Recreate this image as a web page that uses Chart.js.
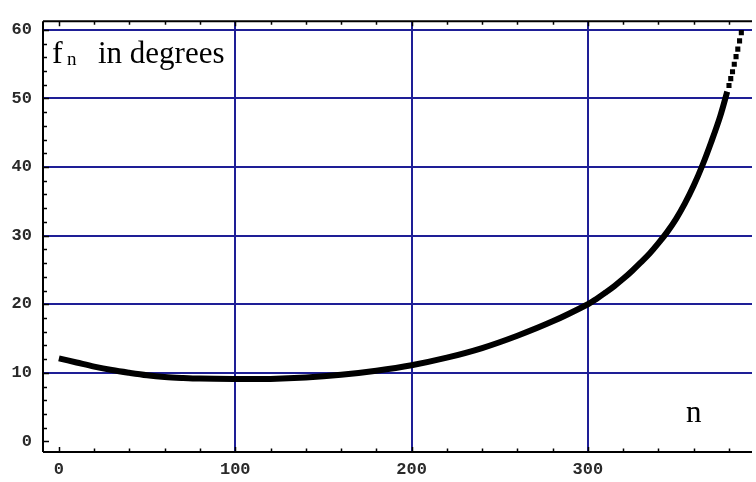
<!DOCTYPE html>
<html>
<head>
<meta charset="utf-8">
<script src="https://cdn.jsdelivr.net/npm/chart.js@4"></script>
<style>
html,body{margin:0;padding:0;background:#fff;}
#wrap{width:756px;height:482px;}
</style>
</head>
<body>
<div id="wrap"><canvas id="c" width="756" height="482"></canvas></div>
<script>
// ---- data ----
const nValues = [0, 10, 20, 30, 40, 50, 60, 70, 80, 100, 120, 140, 160, 180, 200, 220, 240, 260, 280, 300, 305, 310, 315, 320, 325, 330, 335, 340, 345, 350, 355, 360, 365, 370, 375, 379];
const fValues = [12.1, 11.5, 10.9, 10.4, 10.0, 9.65, 9.4, 9.25, 9.15, 9.1, 9.1, 9.3, 9.7, 10.3, 11.1, 12.2, 13.6, 15.4, 17.5, 20.0, 20.8, 21.7, 22.65, 23.7, 24.85, 26.1, 27.4, 28.9, 30.55, 32.45, 34.7, 37.3, 40.3, 43.7, 47.4, 51.0];
const tailN = [380, 381, 382, 383, 384, 385, 386, 387];
const tailF = [51.9, 52.9, 53.9, 55.0, 56.1, 57.2, 58.4, 59.6];
const xTickValues = [0, 100, 200, 300];
const yTickValues = [0, 10, 20, 30, 40, 50, 60];
const xMinorStep = 20;
const yMinorStep = 2;
const yLabelText = "in degrees";
const xLabelText = "n";

const GRID_BLUE = '#1e1e96';

const framePlugin = {
  id: 'frame',
  afterDatasetsDraw(chart) {
    const ctx = chart.ctx, a = chart.chartArea;
    const xs = chart.scales.x, ys = chart.scales.y;
    ctx.save();
    ctx.strokeStyle = '#000';
    ctx.lineWidth = 2;
    ctx.beginPath();
    ctx.moveTo(a.left, a.top); ctx.lineTo(a.right, a.top);
    ctx.moveTo(a.left, a.top); ctx.lineTo(a.left, a.bottom);
    ctx.moveTo(a.left, a.bottom); ctx.lineTo(a.right, a.bottom);
    ctx.stroke();
    ctx.lineWidth = 1.5;
    ctx.beginPath();
    for (let v = 0; v <= xs.max; v += xMinorStep) {
      const px = Math.round(xs.getPixelForValue(v)) + 0.5;
      const major = v % 100 === 0;
      const len = major ? 5 : 3.5;
      ctx.moveTo(px, a.bottom); ctx.lineTo(px, a.bottom - len);
      ctx.moveTo(px, a.top); ctx.lineTo(px, a.top + len);
    }
    for (let v = 0; v <= ys.max; v += yMinorStep) {
      const py = Math.round(ys.getPixelForValue(v)) + 0.5;
      const major = v % 10 === 0;
      const len = major ? 6 : 4;
      ctx.moveTo(a.left, py); ctx.lineTo(a.left + len, py);
    }
    ctx.stroke();

    ctx.fillStyle = '#000';
    ctx.textBaseline = 'alphabetic';
    ctx.textAlign = 'left';
    ctx.font = '32px "Liberation Serif"';
    ctx.fillText('f', 52, 63);
    ctx.font = '19px "Liberation Serif"';
    ctx.fillText('n', 67, 65);
    ctx.font = '31px "Liberation Serif"';
    ctx.fillText(yLabelText, 98, 63);
    ctx.fillText(xLabelText, 686, 422);
    ctx.restore();
  }
};

new Chart(document.getElementById('c'), {
  type: 'line',
  data: {
    datasets: [
      {
        data: nValues.map((n, i) => ({x: n, y: fValues[i]})),
        borderColor: '#000',
        borderWidth: 6,
        pointRadius: 0,
        tension: 0.35,
        fill: false
      },
      {
        data: tailN.map((n, i) => ({x: n, y: tailF[i]})),
        showLine: false,
        pointStyle: 'rect',
        pointRadius: 3.6,
        pointBackgroundColor: '#000',
        pointBorderWidth: 0,
        borderColor: '#000'
      }
    ]
  },
  options: {
    responsive: false,
    animation: false,
    layout: {padding: {top: 7, left: 0, right: 0, bottom: 0}},
    plugins: {legend: {display: false}, tooltip: {enabled: false}},
    scales: {
      x: {
        type: 'linear',
        min: -9.02,
        max: 393.05,
        afterBuildTicks: s => { s.ticks = xTickValues.map(v => ({value: v})); },
        afterFit: s => { s.height = 30; },
        border: {display: false},
        grid: {
          drawTicks: false,
          lineWidth: 2,
          color: c => (c.tick && c.tick.value !== 0) ? GRID_BLUE : 'rgba(0,0,0,0)'
        },
        ticks: {
          padding: 8,
          color: '#2a2a2a',
          font: {family: '"Liberation Mono"', size: 17, weight: 'bold'},
          maxRotation: 0,
          callback: v => String(v)
        }
      },
      y: {
        type: 'linear',
        min: -1.55,
        max: 61.27,
        afterBuildTicks: s => { s.ticks = yTickValues.map(v => ({value: v})); },
        afterFit: s => { s.width = 43; },
        border: {display: false},
        grid: {
          drawTicks: false,
          lineWidth: 2,
          color: c => (c.tick && c.tick.value !== 0) ? GRID_BLUE : 'rgba(0,0,0,0)'
        },
        ticks: {
          padding: 11,
          color: '#2a2a2a',
          font: {family: '"Liberation Mono"', size: 17, weight: 'bold'},
          callback: v => String(v)
        }
      }
    }
  },
  plugins: [framePlugin]
});
</script>
</body>
</html>
